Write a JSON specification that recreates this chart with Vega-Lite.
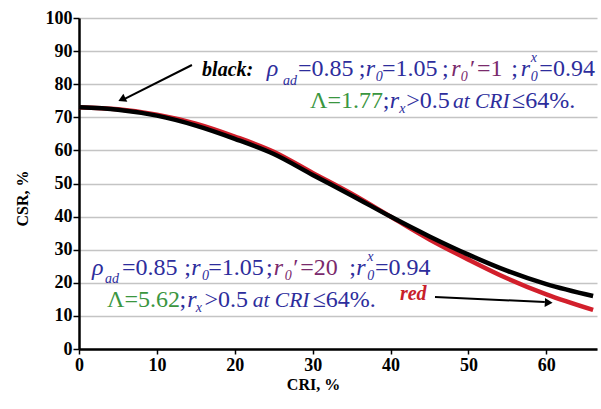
{
  "$schema": "https://vega.github.io/schema/vega-lite/v6.json",
  "width": 518,
  "height": 331,
  "autosize": {"type": "none"},
  "padding": {"left": 79, "top": 18, "right": 4, "bottom": 60},
  "background": "white",
  "config": {
    "view": {"stroke": null},
    "font": "'Liberation Serif', 'Times New Roman', serif",
    "axis": {
      "labelFont": "'Liberation Serif', 'Times New Roman', serif",
      "labelFontWeight": "bold",
      "labelFontSize": 18,
      "labelColor": "black",
      "labelOverlap": false,
      "labelFlush": false,
      "titleFont": "'Liberation Serif', 'Times New Roman', serif",
      "titleFontWeight": "bold",
      "titleFontSize": 16,
      "titleColor": "black",
      "domainColor": "black",
      "domainWidth": 2.5,
      "tickColor": "black",
      "tickWidth": 1.5
    }
  },
  "datasets": {
    "curves": [
      {"s": "red", "x": 0, "y": 73.0},
      {"s": "red", "x": 5, "y": 72.4},
      {"s": "red", "x": 10, "y": 70.8},
      {"s": "red", "x": 15, "y": 68.1},
      {"s": "red", "x": 20, "y": 64.2},
      {"s": "red", "x": 25, "y": 59.6},
      {"s": "red", "x": 30, "y": 53.2},
      {"s": "red", "x": 35, "y": 46.9},
      {"s": "red", "x": 40, "y": 40.0},
      {"s": "red", "x": 45, "y": 33.1},
      {"s": "red", "x": 50, "y": 27.0},
      {"s": "red", "x": 55, "y": 21.3},
      {"s": "red", "x": 60, "y": 16.5},
      {"s": "red", "x": 66, "y": 11.8},
      {"s": "black", "x": 0, "y": 73.0},
      {"s": "black", "x": 5, "y": 72.3},
      {"s": "black", "x": 10, "y": 70.5},
      {"s": "black", "x": 15, "y": 67.5},
      {"s": "black", "x": 20, "y": 63.5},
      {"s": "black", "x": 25, "y": 58.9},
      {"s": "black", "x": 30, "y": 52.6},
      {"s": "black", "x": 35, "y": 46.4},
      {"s": "black", "x": 40, "y": 40.0},
      {"s": "black", "x": 45, "y": 34.0},
      {"s": "black", "x": 50, "y": 28.5},
      {"s": "black", "x": 55, "y": 23.6},
      {"s": "black", "x": 60, "y": 19.6},
      {"s": "black", "x": 66, "y": 16.0}
    ],
    "notes": [
      {"k": "lb", "x": 15.8, "y": 82.6, "t": "black:", "c": "black"},
      {"k": "mi", "x": 24.1, "y": 82.6, "t": "ρ", "c": "blue"},
      {"k": "sb", "x": 26.2, "y": 79.9, "t": "ad", "c": "blue"},
      {"k": "mn", "x": 28.1, "y": 82.6, "t": "=0.85", "c": "blue"},
      {"k": "mn", "x": 35.9, "y": 82.6, "t": ";", "c": "blue"},
      {"k": "mi", "x": 36.8, "y": 82.6, "t": "r", "c": "blue"},
      {"k": "sb", "x": 38.1, "y": 81.1, "t": "0", "c": "blue"},
      {"k": "mn", "x": 38.9, "y": 82.6, "t": "=1.05", "c": "blue"},
      {"k": "mn", "x": 46.6, "y": 82.6, "t": ";", "c": "blue"},
      {"k": "mi", "x": 47.8, "y": 82.6, "t": "r", "c": "purple"},
      {"k": "sb", "x": 49.0, "y": 81.1, "t": "0", "c": "purple"},
      {"k": "mn", "x": 50.2, "y": 82.6, "t": "′", "c": "purple"},
      {"k": "mn", "x": 51.1, "y": 82.6, "t": "=1", "c": "purple"},
      {"k": "mn", "x": 55.5, "y": 82.6, "t": ";", "c": "blue"},
      {"k": "mi", "x": 56.7, "y": 82.6, "t": "r", "c": "blue"},
      {"k": "sb", "x": 58.0, "y": 86.8, "t": "x", "c": "blue"},
      {"k": "sb", "x": 58.0, "y": 81.1, "t": "0", "c": "blue"},
      {"k": "mn", "x": 59.1, "y": 82.6, "t": "=0.94", "c": "blue"},

      {"k": "mn", "x": 29.66, "y": 72.8, "t": "Λ=1.77", "c": "green"},
      {"k": "mn", "x": 39.0, "y": 72.8, "t": ";", "c": "blue"},
      {"k": "mi", "x": 39.9, "y": 72.8, "t": "r", "c": "blue"},
      {"k": "sb", "x": 41.1, "y": 71.3, "t": "x", "c": "blue"},
      {"k": "mn", "x": 42.0, "y": 72.8, "t": ">0.5", "c": "blue"},
      {"k": "ia", "x": 48.0, "y": 72.8, "t": "at CRI", "c": "blue"},
      {"k": "mn", "x": 55.6, "y": 72.8, "t": "≤64%.", "c": "blue"},

      {"k": "mi", "x": 1.67, "y": 22.4, "t": "ρ", "c": "blue"},
      {"k": "sb", "x": 3.34, "y": 19.9, "t": "ad", "c": "blue"},
      {"k": "mn", "x": 5.52, "y": 22.4, "t": "=0.85", "c": "blue"},
      {"k": "mn", "x": 13.5, "y": 22.4, "t": ";", "c": "blue"},
      {"k": "mi", "x": 14.4, "y": 22.4, "t": "r", "c": "blue"},
      {"k": "sb", "x": 15.8, "y": 20.9, "t": "0", "c": "blue"},
      {"k": "mn", "x": 16.6, "y": 22.4, "t": "=1.05", "c": "blue"},
      {"k": "mn", "x": 24.0, "y": 22.4, "t": ";", "c": "blue"},
      {"k": "mi", "x": 25.0, "y": 22.4, "t": "r", "c": "purple"},
      {"k": "sb", "x": 26.4, "y": 20.9, "t": "0", "c": "purple"},
      {"k": "mn", "x": 27.5, "y": 22.4, "t": "′", "c": "purple"},
      {"k": "mn", "x": 28.4, "y": 22.4, "t": "=20", "c": "purple"},
      {"k": "mn", "x": 34.7, "y": 22.4, "t": ";", "c": "blue"},
      {"k": "mi", "x": 35.6, "y": 22.4, "t": "r", "c": "blue"},
      {"k": "sb", "x": 37.0, "y": 26.6, "t": "x", "c": "blue"},
      {"k": "sb", "x": 37.0, "y": 20.9, "t": "0", "c": "blue"},
      {"k": "mn", "x": 38.0, "y": 22.4, "t": "=0.94", "c": "blue"},

      {"k": "mn", "x": 3.6, "y": 12.6, "t": "Λ=5.62", "c": "green"},
      {"k": "mn", "x": 12.9, "y": 12.6, "t": ";", "c": "blue"},
      {"k": "mi", "x": 13.9, "y": 12.6, "t": "r", "c": "blue"},
      {"k": "sb", "x": 15.0, "y": 11.1, "t": "x", "c": "blue"},
      {"k": "mn", "x": 16.1, "y": 12.6, "t": ">0.5", "c": "blue"},
      {"k": "ia", "x": 22.3, "y": 12.6, "t": "at CRI", "c": "blue"},
      {"k": "mn", "x": 30.0, "y": 12.6, "t": "≤64%.", "c": "blue"},
      {"k": "lb", "x": 41.2, "y": 14.8, "t": "red", "c": "red"}
    ],
    "arrows": [
      {"id": "black", "x": 14.5, "y": 85.8, "x2": 5.8, "y2": 75.5},
      {"id": "red", "x": 45.7, "y": 15.7, "x2": 59.8, "y2": 14.2}
    ],
    "heads": [
      {"id": "black", "x": 5.5, "y": 75.4},
      {"id": "red", "x": 60.3, "y": 14.0}
    ]
  },
  "encoding": {
    "x": {
      "field": "x", "type": "quantitative",
      "scale": {"domain": [0, 66.5], "nice": false},
      "axis": {
        "values": [0, 10, 20, 30, 40, 50, 60],
        "grid": false, "tickSize": 5, "labelPadding": 2,
        "title": "CRI, %", "titleBaseline": "top", "titleY": 27, "titleX": 234, "titleAlign": "center"
      }
    },
    "y": {
      "field": "y", "type": "quantitative",
      "scale": {"domain": [0, 100], "nice": false},
      "axis": {
        "values": [0, 10, 20, 30, 40, 50, 60, 70, 80, 90, 100],
        "tickCount": 11,
        "grid": true, "gridColor": "#c4c4c4", "gridWidth": 1.5,
        "tickSize": 6, "labelPadding": 1,
        "title": "CSR, %", "titleAngle": -90, "titleX": -57, "titleY": 180,
        "titleBaseline": "middle", "titleAlign": "center"
      }
    }
  },
  "layer": [
    {
      "data": {"name": "curves"},
      "transform": [{"filter": "datum.s === 'red'"}],
      "mark": {"type": "line", "color": "#d21f2b", "strokeWidth": 4.5, "interpolate": "monotone"}
    },
    {
      "data": {"name": "curves"},
      "transform": [{"filter": "datum.s === 'black'"}],
      "mark": {"type": "line", "color": "#000000", "strokeWidth": 4.5, "interpolate": "monotone"}
    },
    {
      "data": {"name": "arrows"},
      "mark": {"type": "rule", "color": "black", "strokeWidth": 2},
      "encoding": {
        "x2": {"field": "x2"},
        "y2": {"field": "y2"}
      }
    },
    {
      "data": {"name": "heads"},
      "transform": [{"filter": "datum.id === 'black'"}],
      "mark": {"type": "point", "shape": "triangle-up", "filled": true, "color": "black", "opacity": 1, "size": 80, "angle": 244}
    },
    {
      "data": {"name": "heads"},
      "transform": [{"filter": "datum.id === 'red'"}],
      "mark": {"type": "point", "shape": "triangle-up", "filled": true, "color": "black", "opacity": 1, "size": 80, "angle": 93}
    },
    {
      "data": {"name": "notes"},
      "transform": [{"filter": "datum.k === 'mn'"}],
      "mark": {"type": "text", "font": "'Liberation Serif', 'Times New Roman', serif", "fontSize": 24, "align": "left", "baseline": "alphabetic"},
      "encoding": {
        "text": {"field": "t"},
        "color": {"field": "c", "type": "nominal", "legend": null,
          "scale": {"domain": ["blue", "purple", "green", "black", "red"], "range": ["#2d2d9c", "#7a2a6c", "#3a963f", "#000000", "#c8202a"]}}
      }
    },
    {
      "data": {"name": "notes"},
      "transform": [{"filter": "datum.k === 'mi'"}],
      "mark": {"type": "text", "font": "'Liberation Serif', 'Times New Roman', serif", "fontStyle": "italic", "fontSize": 24, "align": "left", "baseline": "alphabetic"},
      "encoding": {
        "text": {"field": "t"},
        "color": {"field": "c", "type": "nominal", "legend": null}
      }
    },
    {
      "data": {"name": "notes"},
      "transform": [{"filter": "datum.k === 'ia'"}],
      "mark": {"type": "text", "font": "'Liberation Serif', 'Times New Roman', serif", "fontStyle": "italic", "fontSize": 21.5, "align": "left", "baseline": "alphabetic"},
      "encoding": {
        "text": {"field": "t"},
        "color": {"field": "c", "type": "nominal", "legend": null}
      }
    },
    {
      "data": {"name": "notes"},
      "transform": [{"filter": "datum.k === 'sb'"}],
      "mark": {"type": "text", "font": "'Liberation Serif', 'Times New Roman', serif", "fontStyle": "italic", "fontSize": 14, "align": "left", "baseline": "alphabetic"},
      "encoding": {
        "text": {"field": "t"},
        "color": {"field": "c", "type": "nominal", "legend": null}
      }
    },
    {
      "data": {"name": "notes"},
      "transform": [{"filter": "datum.k === 'lb'"}],
      "mark": {"type": "text", "font": "'Liberation Serif', 'Times New Roman', serif", "fontStyle": "italic", "fontWeight": "bold", "fontSize": 20, "align": "left", "baseline": "alphabetic"},
      "encoding": {
        "text": {"field": "t"},
        "color": {"field": "c", "type": "nominal", "legend": null}
      }
    }
  ]
}
